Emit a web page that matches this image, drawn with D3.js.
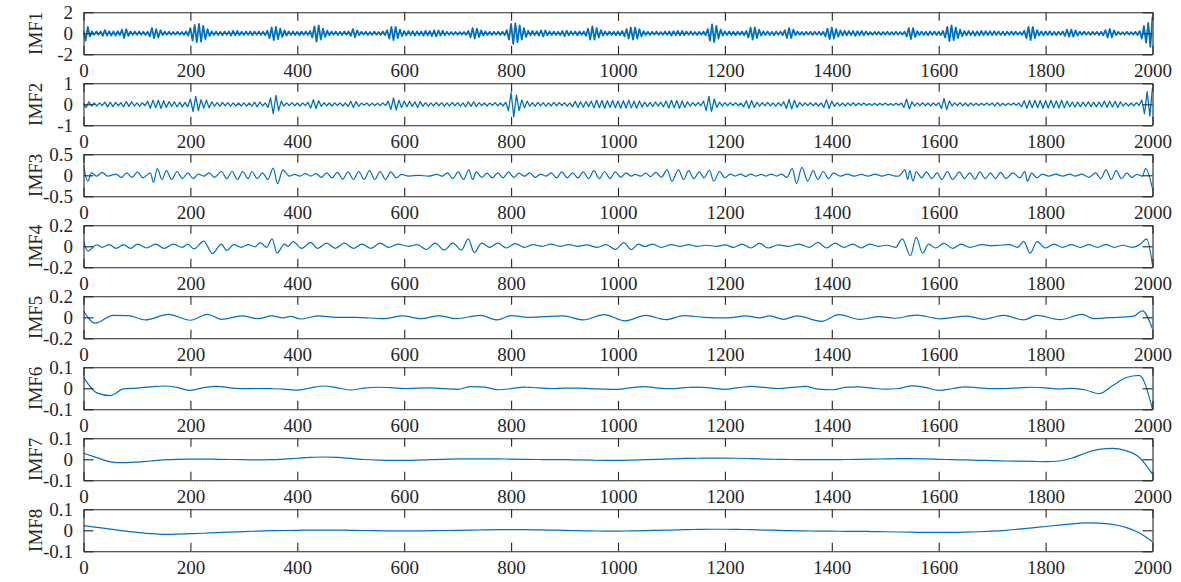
<!DOCTYPE html>
<html>
<head>
<meta charset="utf-8">
<script src="https://cdn.jsdelivr.net/npm/d3@7"></script>
<style>
  html, body { margin: 0; padding: 0; background: #fff; }
  text { font-family: "Liberation Serif", "Times New Roman", serif; fill: #262626; }
</style>
</head>
<body>
<div id="chart"></div>
<script>
const panelNames = ["IMF1", "IMF2", "IMF3", "IMF4", "IMF5", "IMF6", "IMF7", "IMF8"];
const xTicks = [0, 200, 400, 600, 800, 1000, 1200, 1400, 1600, 1800, 2000];
const yDomains = [[-2, 2], [-1, 1], [-0.5, 0.5], [-0.2, 0.2], [-0.2, 0.2], [-0.1, 0.1], [-0.1, 0.1], [-0.1, 0.1]];
const yTicks = [[-2, 0, 2], [-1, 0, 1], [-0.5, 0, 0.5], [-0.2, 0, 0.2], [-0.2, 0, 0.2], [-0.1, 0, 0.1], [-0.1, 0, 0.1], [-0.1, 0, 0.1]];

// IMF1: one value every 4 samples
const imf1Step = 4;
const imf1 = [
  0.2, -0.7, 0.6, -0.3, 0.18, -0.15, 0.17, -0.14, 0.18, -0.25, 0.3, -0.22, 0.2, -0.22, 0.18, -0.22, 0.2, -0.18, 0.35, -0.45, 0.4, -0.25, 0.17, -0.15, 0.17,
  -0.15, 0.17, -0.14, 0.15, -0.17, 0.15, -0.3, 0.5, -0.45, 0.4, -0.4, 0.3, -0.18, 0.15, -0.13, 0.15, -0.13, 0.12, -0.13, 0.15, -0.13, 0.12, -0.15, 0.17, -0.22,
  0.5, -0.7, 0.8, -0.85, 0.9, -0.8, 0.7, -0.55, 0.4, -0.25, 0.18, -0.17, 0.18, -0.17, 0.15, -0.18, 0.17, -0.15, 0.18, -0.22, 0.24, -0.2, 0.22, -0.17, 0.15,
  -0.17, 0.18, -0.15, 0.17, -0.18, 0.17, -0.15, 0.18, -0.17, 0.15, -0.18, 0.25, -0.45, 0.55, -0.65, 0.6, -0.55, 0.45, -0.35, 0.28, -0.22, 0.18, -0.17, 0.18, -0.17,
  0.15, -0.18, 0.17, -0.15, 0.18, -0.17, 0.22, -0.4, 0.65, -0.8, 0.75, -0.6, 0.45, -0.35, 0.25, -0.18, 0.17, -0.15, 0.18, -0.17, 0.15, -0.17, 0.18, -0.15, 0.17,
  -0.25, 0.4, -0.38, 0.28, -0.17, 0.15, -0.13, 0.15, -0.17, 0.13, -0.15, 0.17, -0.15, 0.13, -0.15, 0.17, -0.18, 0.3, -0.5, 0.6, -0.65, 0.6, -0.45, 0.35, -0.28,
  0.22, -0.2, 0.22, -0.18, 0.2, -0.22, 0.18, -0.17, 0.18, -0.22, 0.24, -0.2, 0.22, -0.26, 0.28, -0.3, 0.27, -0.22, 0.24, -0.2, 0.15, -0.14, 0.12, -0.14, 0.12,
  -0.14, 0.12, -0.12, 0.13, -0.15, 0.22, -0.4, 0.5, -0.5, 0.45, -0.35, 0.28, -0.22, 0.18, -0.16, 0.15, -0.17, 0.15, -0.13, 0.15, -0.17, 0.15, -0.18, 0.3, -0.6,
  0.9, -1.0, 0.95, -0.85, 0.75, -0.6, 0.5, -0.35, 0.24, -0.2, 0.22, -0.18, 0.2, -0.22, 0.28, -0.3, 0.27, -0.2, 0.18, -0.17, 0.18, -0.17, 0.15, -0.18, 0.22,
  -0.28, 0.26, -0.2, 0.17, -0.15, 0.17, -0.18, 0.17, -0.15, 0.18, -0.25, 0.45, -0.6, 0.65, -0.6, 0.5, -0.4, 0.3, -0.22, 0.18, -0.17, 0.18, -0.17, 0.15, -0.18,
  0.17, -0.18, 0.22, -0.3, 0.4, -0.5, 0.55, -0.6, 0.55, -0.5, 0.4, -0.3, 0.2, -0.16, 0.15, -0.17, 0.15, -0.13, 0.17, -0.15, 0.13, -0.15, 0.17, -0.15, 0.18,
  -0.22, 0.2, -0.18, 0.22, -0.2, 0.22, -0.18, 0.17, -0.15, 0.17, -0.15, 0.13, -0.17, 0.15, -0.13, 0.17, -0.18, 0.4, -0.7, 0.85, -0.85, 0.7, -0.5, 0.35, -0.22,
  0.18, -0.17, 0.18, -0.17, 0.15, -0.18, 0.17, -0.15, 0.17, -0.18, 0.22, -0.4, 0.55, -0.6, 0.55, -0.45, 0.35, -0.22, 0.18, -0.17, 0.18, -0.17, 0.15, -0.18, 0.17,
  -0.15, 0.17, -0.18, 0.3, -0.45, 0.5, -0.45, 0.35, -0.18, 0.17, -0.15, 0.13, -0.17, 0.15, -0.13, 0.15, -0.17, 0.15, -0.13, 0.15, -0.17, 0.15, -0.3, 0.45, -0.55,
  0.55, -0.5, 0.4, -0.32, 0.27, -0.22, 0.24, -0.2, 0.22, -0.18, 0.22, -0.24, 0.2, -0.18, 0.22, -0.2, 0.18, -0.15, 0.13, -0.15, 0.13, -0.12, 0.13, -0.15, 0.13,
  -0.13, 0.15, -0.13, 0.12, -0.13, 0.15, -0.13, 0.12, -0.13, 0.15, -0.3, 0.5, -0.55, 0.5, -0.35, 0.2, -0.17, 0.18, -0.17, 0.15, -0.18, 0.17, -0.15, 0.18, -0.17,
  0.15, -0.18, 0.22, -0.4, 0.6, -0.75, 0.75, -0.65, 0.55, -0.45, 0.35, -0.27, 0.22, -0.2, 0.22, -0.18, 0.2, -0.22, 0.18, -0.2, 0.22, -0.18, 0.2, -0.18, 0.2,
  -0.18, 0.2, -0.16, 0.18, -0.17, 0.16, -0.18, 0.16, -0.14, 0.17, -0.14, 0.16, -0.14, 0.13, -0.15, 0.25, -0.45, 0.6, -0.65, 0.6, -0.45, 0.3, -0.2, 0.18, -0.2,
  0.18, -0.16, 0.2, -0.18, 0.16, -0.18, 0.16, -0.15, 0.18, -0.25, 0.35, -0.32, 0.35, -0.32, 0.27, -0.22, 0.16, -0.14, 0.16, -0.14, 0.13, -0.16, 0.14, -0.13, 0.14,
  -0.16, 0.14, -0.18, 0.3, -0.4, 0.42, -0.38, 0.28, -0.18, 0.14, -0.12, 0.11, -0.12, 0.14, -0.12, 0.11, -0.12, 0.14, -0.16, 0.22, -0.5, 0.7, -0.9, 1.0, -1.3,
  1.6
];

// IMF2: one value every 5 samples
const imf2Step = 5;
const imf2 = [
  0.05, -0.15, 0.12, -0.08, 0.06, -0.08, 0.07, -0.06, 0.1, -0.12, 0.1, -0.11, 0.09, -0.07, 0.08, -0.12, 0.13, -0.1, 0.12, -0.08,
  0.07, -0.09, 0.08, -0.07, 0.15, -0.19, 0.2, -0.17, 0.19, -0.2, 0.17, -0.15, 0.13, -0.1, 0.12, -0.13, 0.1, -0.12, 0.09, -0.12,
  0.25, -0.35, 0.38, -0.3, 0.22, -0.18, 0.2, -0.17, 0.12, -0.09, 0.08, -0.1, 0.09, -0.07, 0.08, -0.09, 0.07, -0.08, 0.06, -0.08,
  0.07, -0.08, 0.06, -0.09, 0.1, -0.12, 0.11, -0.08, 0.07, -0.15, 0.3, -0.45, 0.42, -0.3, 0.15, -0.08, 0.07, -0.06, 0.08, -0.07,
  0.06, -0.08, 0.07, -0.06, 0.1, -0.18, 0.22, -0.2, 0.17, -0.1, 0.08, -0.07, 0.06, -0.08, 0.07, -0.06, 0.07, -0.08, 0.06, -0.1,
  0.14, -0.15, 0.13, -0.1, 0.06, -0.05, 0.06, -0.07, 0.05, -0.06, 0.05, -0.06, 0.07, -0.06, 0.15, -0.25, 0.3, -0.27, 0.2, -0.15,
  0.15, -0.12, 0.14, -0.1, 0.12, -0.15, 0.13, -0.1, 0.08, -0.09, 0.07, -0.08, 0.09, -0.07, 0.08, -0.09, 0.07, -0.08, 0.09, -0.07,
  0.08, -0.09, 0.07, -0.12, 0.12, -0.1, 0.12, -0.11, 0.08, -0.07, 0.06, -0.08, 0.07, -0.06, 0.08, -0.07, 0.06, -0.08, 0.1, -0.3,
  0.55, -0.6, 0.45, -0.3, 0.2, -0.17, 0.15, -0.09, 0.08, -0.1, 0.09, -0.07, 0.08, -0.09, 0.07, -0.08, 0.09, -0.07, 0.08, -0.06,
  0.08, -0.09, 0.07, -0.12, 0.14, -0.15, 0.12, -0.14, 0.13, -0.1, 0.15, -0.17, 0.19, -0.16, 0.18, -0.19, 0.17, -0.15, 0.18, -0.17,
  0.16, -0.19, 0.17, -0.18, 0.2, -0.17, 0.15, -0.19, 0.16, -0.12, 0.1, -0.11, 0.09, -0.1, 0.11, -0.09, 0.1, -0.12, 0.15, -0.18,
  0.19, -0.17, 0.18, -0.19, 0.16, -0.15, 0.12, -0.09, 0.08, -0.07, 0.09, -0.08, 0.15, -0.3, 0.38, -0.35, 0.25, -0.15, 0.1, -0.09,
  0.08, -0.07, 0.08, -0.06, 0.08, -0.07, 0.06, -0.12, 0.17, -0.19, 0.18, -0.15, 0.1, -0.09, 0.08, -0.07, 0.09, -0.08, 0.07, -0.09,
  0.08, -0.07, 0.12, -0.2, 0.23, -0.22, 0.2, -0.15, 0.09, -0.08, 0.07, -0.06, 0.08, -0.07, 0.06, -0.08, 0.07, -0.15, 0.22, -0.2,
  0.15, -0.1, 0.08, -0.07, 0.06, -0.08, 0.07, -0.06, 0.08, -0.07, 0.06, -0.05, 0.06, -0.05, 0.04, -0.06, 0.05, -0.06, 0.05, -0.04,
  0.06, -0.05, 0.04, -0.06, 0.05, -0.04, 0.06, -0.15, 0.25, -0.22, 0.12, -0.08, 0.07, -0.06, 0.08, -0.07, 0.06, -0.08, 0.07, -0.06,
  0.08, -0.2, 0.28, -0.25, 0.15, -0.08, 0.07, -0.06, 0.08, -0.07, 0.06, -0.08, 0.07, -0.06, 0.05, -0.06, 0.05, -0.04, 0.06, -0.05,
  0.06, -0.08, 0.09, -0.07, 0.05, -0.06, 0.05, -0.04, 0.06, -0.05, 0.06, -0.12, 0.17, -0.19, 0.18, -0.17, 0.19, -0.16, 0.18, -0.19,
  0.17, -0.18, 0.19, -0.17, 0.16, -0.18, 0.19, -0.17, 0.15, -0.12, 0.11, -0.12, 0.1, -0.12, 0.11, -0.1, 0.12, -0.11, 0.1, -0.12,
  0.11, -0.12, 0.15, -0.14, 0.15, -0.13, 0.14, -0.15, 0.12, -0.08, 0.07, -0.08, 0.06, -0.07, 0.08, -0.06, 0.2, -0.45, 0.6, -0.55,
  0.78
];

// IMF3: [sample, value] at turning points
const imf3 = [
  [0, 0.25], [8, -0.14], [15, 0.06], [25, -0.02], [35, 0.07], [45, -0.02], [61, 0.03], [71, -0.05], [81, 0.06], [91, -0.05],
  [101, 0.08], [111, -0.06], [125, 0.06], [131, -0.17], [138, 0.16], [147, -0.1], [155, 0.11], [165, -0.1], [175, 0.09], [185, -0.08],
  [195, 0.06], [205, -0.08], [215, 0.03], [225, -0.02], [235, 0.06], [245, -0.05], [258, 0.09], [268, -0.08], [278, 0.09], [288, -0.1],
  [298, 0.09], [308, -0.08], [315, 0.09], [325, -0.08], [335, 0.06], [345, -0.1], [355, 0.17], [363, -0.2], [373, 0.13], [385, -0.02],
  [395, 0.02], [405, -0.02], [415, 0.04], [425, -0.02], [435, 0.04], [445, -0.05], [455, 0.06], [465, -0.06], [475, 0.07], [485, -0.09],
  [495, 0.08], [505, -0.1], [515, 0.09], [525, -0.1], [535, 0.11], [545, -0.1], [555, 0.09], [565, -0.1], [575, 0.08], [585, -0.06],
  [595, 0.02], [608, -0.02], [628, 0.0], [645, -0.02], [661, 0.02], [671, -0.02], [681, 0.06], [691, -0.08], [701, 0.08], [711, -0.1],
  [721, 0.13], [728, -0.1], [735, 0.08], [745, -0.05], [755, 0.05], [765, -0.06], [775, 0.06], [785, -0.06], [795, 0.08], [805, -0.05],
  [815, 0.05], [825, -0.02], [835, 0.06], [845, -0.05], [855, 0.03], [865, -0.02], [875, 0.06], [885, -0.06], [895, 0.08], [905, -0.06],
  [915, 0.06], [925, -0.06], [935, 0.08], [945, -0.08], [955, 0.11], [965, -0.08], [975, 0.09], [985, -0.08], [995, 0.08], [1005, -0.05],
  [1015, 0.06], [1025, -0.02], [1032, 0.02], [1042, -0.02], [1052, 0.05], [1061, -0.03], [1071, 0.07], [1081, -0.05], [1092, 0.13], [1101, -0.14],
  [1113, 0.13], [1123, -0.1], [1132, 0.11], [1142, -0.08], [1152, 0.08], [1161, -0.06], [1171, 0.12], [1179, -0.14], [1190, 0.09], [1200, -0.06],
  [1210, 0.03], [1219, -0.02], [1229, 0.03], [1239, -0.03], [1248, 0.03], [1258, -0.02], [1268, 0.02], [1277, -0.02], [1287, 0.03], [1297, -0.02],
  [1306, 0.03], [1316, -0.05], [1326, 0.16], [1334, -0.2], [1344, 0.19], [1355, -0.14], [1365, 0.11], [1374, -0.1], [1384, 0.09], [1394, -0.08],
  [1403, 0.06], [1416, -0.02], [1429, 0.03], [1442, -0.02], [1455, 0.02], [1468, -0.02], [1481, 0.03], [1494, -0.02], [1506, 0.02], [1519, -0.02],
  [1525, -0.02], [1537, 0.13], [1542, -0.1], [1546, 0.11], [1552, -0.14], [1558, 0.09], [1568, -0.06], [1577, 0.08], [1587, -0.08], [1597, 0.06],
  [1606, -0.1], [1616, 0.09], [1626, -0.1], [1639, 0.08], [1648, -0.08], [1658, 0.06], [1668, -0.09], [1677, 0.08], [1687, -0.08], [1697, 0.06],
  [1706, -0.08], [1716, 0.07], [1726, -0.08], [1739, 0.06], [1752, -0.06], [1761, 0.09], [1766, -0.14], [1774, 0.06], [1784, -0.06], [1794, 0.03],
  [1806, -0.02], [1819, 0.03], [1832, -0.02], [1845, 0.03], [1855, -0.02], [1868, 0.03], [1881, -0.05], [1894, 0.06], [1903, -0.08], [1913, 0.13],
  [1923, -0.1], [1932, 0.11], [1942, -0.08], [1952, 0.06], [1961, -0.05], [1971, 0.02], [1981, -0.02], [1987, 0.16], [2000, -0.32]
];

// IMF4: [sample, value] at turning points
const imf4 = [
  [0, 0.05], [8, -0.045], [25, 0.015], [35, -0.01], [48, 0.016], [61, -0.02], [75, 0.016], [88, -0.02], [101, 0.02], [118, -0.016],
  [135, 0.02], [151, -0.02], [168, 0.02], [185, -0.01], [195, 0.02], [207, -0.025], [225, 0.05], [241, -0.07], [258, 0.02], [268, -0.04],
  [281, 0.016], [295, -0.01], [308, 0.016], [321, -0.005], [331, 0.035], [342, -0.01], [353, 0.07], [362, -0.065], [376, 0.02], [383, 0.0],
  [392, 0.045], [408, -0.02], [425, 0.038], [438, -0.02], [455, 0.03], [471, -0.02], [488, 0.03], [505, -0.02], [521, 0.02], [538, -0.02],
  [555, 0.03], [571, -0.01], [588, 0.02], [608, 0.0], [625, 0.016], [641, -0.03], [658, 0.03], [675, -0.035], [691, 0.03], [707, -0.035],
  [720, 0.07], [731, -0.06], [745, 0.03], [760, -0.01], [775, 0.03], [791, -0.016], [808, 0.025], [825, -0.01], [841, 0.016], [858, 0.0],
  [875, 0.02], [891, 0.0], [908, 0.016], [925, 0.0], [941, 0.013], [961, -0.01], [978, 0.016], [995, -0.03], [1011, 0.035], [1025, -0.033],
  [1038, 0.02], [1050, -0.002], [1065, 0.02], [1081, -0.01], [1100, 0.016], [1116, 0.0], [1132, 0.016], [1148, 0.0], [1165, 0.01], [1184, 0.0],
  [1200, 0.013], [1216, -0.01], [1232, 0.02], [1248, -0.016], [1265, 0.028], [1281, -0.016], [1300, 0.013], [1319, 0.0], [1339, 0.02], [1358, -0.01],
  [1374, 0.038], [1390, -0.016], [1406, 0.03], [1423, -0.01], [1439, 0.02], [1455, -0.016], [1471, 0.02], [1487, 0.0], [1503, 0.01], [1519, -0.01],
  [1532, 0.07], [1547, -0.09], [1558, 0.085], [1570, -0.066], [1581, 0.02], [1594, -0.016], [1610, 0.028], [1626, -0.02], [1642, 0.02], [1658, -0.01],
  [1681, 0.016], [1698, 0.005], [1713, 0.01], [1732, 0.016], [1748, -0.01], [1759, 0.047], [1771, -0.066], [1784, 0.044], [1800, -0.016], [1816, 0.02],
  [1832, -0.01], [1848, 0.016], [1865, -0.01], [1881, 0.016], [1897, -0.01], [1913, 0.016], [1929, -0.01], [1945, 0.01], [1961, -0.01], [1977, 0.02],
  [1989, 0.07], [2000, -0.18]
];

// IMF5: [sample, value] at turning points
const imf5 = [
  [0, 0.06], [22, -0.056], [55, 0.019], [84, 0.016], [116, -0.025], [159, 0.028], [200, -0.028], [232, 0.028], [258, -0.019], [297, 0.013],
  [326, -0.013], [352, 0.013], [374, -0.006], [387, 0.009], [406, -0.016], [439, 0.013], [474, 0.0], [510, 0.0], [561, -0.013], [597, 0.013],
  [632, -0.013], [665, 0.016], [697, -0.013], [742, 0.019], [774, -0.025], [800, 0.016], [832, 0.0], [897, 0.013], [935, -0.025], [974, 0.025],
  [1013, -0.034], [1052, 0.019], [1090, -0.022], [1123, 0.016], [1161, 0.0], [1206, -0.006], [1239, 0.013], [1265, -0.006], [1284, 0.013], [1310, -0.019],
  [1335, 0.013], [1381, -0.038], [1413, 0.025], [1452, -0.019], [1490, 0.006], [1516, -0.009], [1559, 0.02], [1603, -0.015], [1653, 0.012], [1684, -0.019],
  [1721, 0.019], [1759, -0.025], [1784, 0.019], [1827, -0.022], [1868, 0.028], [1890, -0.012], [1933, 0.0], [1965, 0.012], [1981, 0.061], [2000, -0.11]
];

// IMF6 to IMF8: one value every 25 samples
const slowStep = 25;
const imf6 = [
  0.053, -0.022, -0.035, -0.003, 0.001, 0.007, 0.011, 0.004, -0.010, 0.003, 0.009, 0.002, -0.002, -0.001, -0.002, -0.004, -0.009,
  0.002, 0.011, 0.002, -0.008, 0.001, 0.005, 0.003, -0.001, 0.001, 0.002, -0.002, -0.005, 0.008, 0.006, -0.007, -0.002,
  0.006, 0.002, -0.001, 0.001, 0.001, -0.002, -0.004, -0.005, 0.003, 0.008, 0.001, -0.002, 0.003, 0.006, 0.001, -0.005,
  0.003, 0.009, 0.004, -0.001, 0.004, 0.009, -0.004, -0.007, 0.004, 0.007, 0.001, -0.004, -0.001, 0.012, 0.004, -0.010,
  -0.002, 0.007, 0.002, -0.002, -0.001, 0.002, 0.005, 0.002, -0.004, 0.000, -0.008, -0.026, 0.012, 0.050, 0.062, -0.100
];
const imf7 = [
  0.029, 0.008, -0.012, -0.016, -0.013, -0.008, -0.003, 0.000, 0.001, 0.001, 0.000, -0.001, -0.002, -0.003, -0.002, 0.001, 0.005,
  0.009, 0.011, 0.009, 0.004, -0.001, -0.004, -0.005, -0.005, -0.004, -0.002, 0.000, 0.002, 0.002, 0.002, 0.002, 0.001,
  0.000, -0.001, -0.002, -0.002, -0.003, -0.004, -0.005, -0.005, -0.004, -0.002, 0.000, 0.002, 0.004, 0.005, 0.006, 0.006,
  0.005, 0.003, 0.001, 0.000, -0.001, -0.002, -0.002, -0.002, -0.001, 0.000, 0.001, 0.002, 0.003, 0.003, 0.002, 0.000,
  -0.002, -0.003, -0.005, -0.006, -0.008, -0.009, -0.010, -0.011, -0.008, 0.006, 0.030, 0.047, 0.052, 0.041, 0.010, -0.071
];
const imf8 = [
  0.022, 0.014, 0.006, -0.003, -0.010, -0.016, -0.019, -0.018, -0.016, -0.014, -0.011, -0.009, -0.006, -0.004, -0.002, -0.001, 0.000,
  0.001, 0.001, 0.001, 0.000, -0.001, -0.002, -0.003, -0.003, -0.003, -0.002, -0.001, 0.000, 0.001, 0.002, 0.003, 0.003,
  0.003, 0.002, 0.001, 0.000, -0.002, -0.003, -0.004, -0.004, -0.003, -0.002, 0.000, 0.001, 0.003, 0.004, 0.005, 0.005,
  0.004, 0.003, 0.001, 0.000, -0.002, -0.003, -0.004, -0.004, -0.005, -0.005, -0.006, -0.007, -0.008, -0.009, -0.010, -0.010,
  -0.010, -0.009, -0.007, -0.004, 0.000, 0.006, 0.012, 0.018, 0.025, 0.031, 0.035, 0.034, 0.028, 0.014, -0.012, -0.055
];

const width = 1181;
const height = 582;
const plotLeft = 83.5;
const plotRight = 1152.5;
const firstTop = 12.3;
const panelStep = 71;
const panelHeight = 42;
const lineColor = "#0072BD";
const axisColor = "#262626";

const evenSpaced = (arr, step) => arr.map((v, i) => [i * step, v]);

const series = [
  { pts: evenSpaced(imf1, imf1Step), curve: d3.curveLinear, w: 1.8 },
  { pts: evenSpaced(imf2, imf2Step), curve: d3.curveLinear, w: 1.3 },
  { pts: imf3, curve: d3.curveMonotoneX, w: 1.2 },
  { pts: imf4, curve: d3.curveMonotoneX, w: 1.2 },
  { pts: imf5, curve: d3.curveMonotoneX, w: 1.2 },
  { pts: evenSpaced(imf6, slowStep), curve: d3.curveMonotoneX, w: 1.2 },
  { pts: evenSpaced(imf7, slowStep), curve: d3.curveMonotoneX, w: 1.2 },
  { pts: evenSpaced(imf8, slowStep), curve: d3.curveMonotoneX, w: 1.2 }
];

const svg = d3.select("#chart").append("svg")
  .attr("width", width)
  .attr("height", height)
  .style("display", "block");

svg.append("rect").attr("width", width).attr("height", height).attr("fill", "#fff");

const x = d3.scaleLinear().domain([0, 2000]).range([plotLeft, plotRight]);

svg.append("defs").append("clipPath").attr("id", "plot-clip")
  .append("rect")
  .attr("x", plotLeft)
  .attr("y", -1)
  .attr("width", plotRight - plotLeft)
  .attr("height", panelHeight + 2);

const fmt = d => String(d);

panelNames.forEach((name, k) => {
  const top = firstTop + k * panelStep;
  const g = svg.append("g").attr("transform", `translate(0,${top})`);
  const y = d3.scaleLinear().domain(yDomains[k]).range([panelHeight, 0]);

  const line = d3.line()
    .x(d => x(d[0]))
    .y(d => y(d[1]))
    .curve(series[k].curve);

  g.append("path")
    .datum(series[k].pts)
    .attr("clip-path", "url(#plot-clip)")
    .attr("fill", "none")
    .attr("stroke", lineColor)
    .attr("stroke-width", series[k].w)
    .attr("stroke-linejoin", "round")
    .attr("d", line);

  // bottom axis with labels, ticks pointing inwards
  g.append("g")
    .attr("transform", `translate(0,${panelHeight})`)
    .call(d3.axisBottom(x).tickValues(xTicks).tickFormat(fmt).tickSizeInner(-8.5).tickSizeOuter(0).tickPadding(9));

  g.append("g")
    .call(d3.axisTop(x).tickValues(xTicks).tickFormat("").tickSizeInner(-8.5).tickSizeOuter(0));

  g.append("g")
    .attr("transform", `translate(${plotLeft},0)`)
    .call(d3.axisLeft(y).tickValues(yTicks[k]).tickFormat(fmt).tickSizeInner(-10).tickSizeOuter(0).tickPadding(10.5));

  g.append("g")
    .attr("transform", `translate(${plotRight},0)`)
    .call(d3.axisRight(y).tickValues(yTicks[k]).tickFormat("").tickSizeInner(-10).tickSizeOuter(0));

  g.selectAll(".domain, .tick line")
    .attr("stroke", axisColor)
    .attr("stroke-width", 1.1);

  g.selectAll(".tick text")
    .attr("fill", axisColor)
    .style("font-family", "'Liberation Serif', 'Times New Roman', serif")
    .style("font-size", "19px");

  g.append("text")
    .attr("transform", `translate(35,${panelHeight / 2}) rotate(-90)`)
    .attr("text-anchor", "middle")
    .attr("dy", "0.35em")
    .style("font-size", "19px")
    .text(name);
});
</script>
</body>
</html>
